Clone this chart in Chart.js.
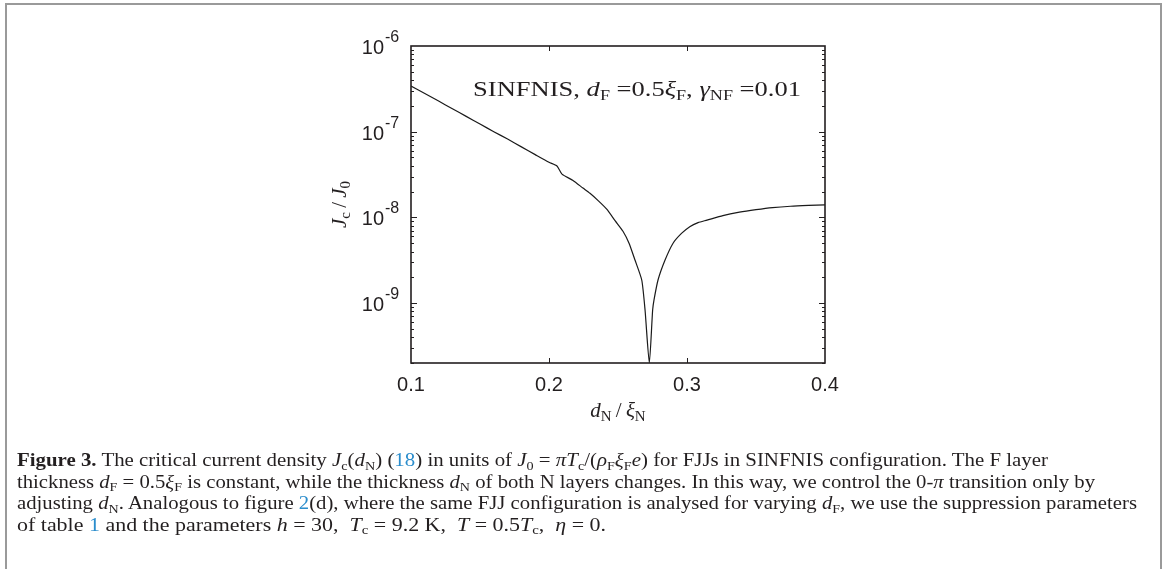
<!DOCTYPE html>
<html>
<head>
<meta charset="utf-8">
<script src="https://cdn.jsdelivr.net/npm/chart.js@4.4.0/dist/chart.umd.min.js"></script>
<style>
  body { margin: 0; background: #fff; width: 1168px; height: 569px; overflow: hidden; position: relative; }
  #frame { position: absolute; left: 5px; top: 3px; width: 1153px; height: 620px; border: 2px solid #9a9a9a; border-bottom: none; }
  canvas { position: absolute; left: 0; top: 0; }
  #caption { position: absolute; left: 17px; top: 450px; font-family: "Liberation Serif", serif; font-size: 18px; color: #231f20; }
  .ln { white-space: nowrap; height: 21.5px; line-height: 21.5px; transform-origin: 0 0; }
  .ln span.w { display: inline-block; transform-origin: 0 50%; }
  .s { font-size: 0.68em; position: relative; top: 0.3em; font-style: normal; }
  .b { color: #2b8dcc; }
</style>
</head>
<body>
<div id="frame"></div>
<canvas id="myChart" width="1168" height="569"></canvas>
<div id="caption">
  <div class="ln"><span class="w"><b>Figure 3.</b> The critical current density <i>J</i><span class="s">c</span>(<i>d</i><span class="s">N</span>) (<span class="b">18</span>) in units of <i>J</i><span class="s">0</span> = <i>πT</i><span class="s">c</span>/(<i>ρ</i><span class="s">F</span><i>ξ</i><span class="s">F</span><i>e</i>) for FJJs in SINFNIS configuration. The F layer</span></div>
  <div class="ln"><span class="w">thickness <i>d</i><span class="s">F</span> = 0.5<i>ξ</i><span class="s">F</span> is constant, while the thickness <i>d</i><span class="s">N</span> of both N layers changes. In this way, we control the 0-<i>π</i> transition only by</span></div>
  <div class="ln"><span class="w">adjusting <i>d</i><span class="s">N</span>. Analogous to figure <span class="b">2</span>(d), where the same FJJ configuration is analysed for varying <i>d</i><span class="s">F</span>, we use the suppression parameters</span></div>
  <div class="ln"><span class="w">of table <span class="b">1</span> and the parameters <i>h</i> = 30, &nbsp;<i>T</i><span class="s">c</span> = 9.2 K, &nbsp;<i>T</i> = 0.5<i>T</i><span class="s">c</span>, &nbsp;<i>η</i> = 0.</span></div>
</div>
<script>
// d_N / xi_N
const dN = [0.100, 0.110, 0.120, 0.130, 0.140, 0.150, 0.160, 0.170, 0.180, 0.190,
            0.200, 0.2058, 0.2094, 0.2174, 0.2246, 0.2297, 0.236, 0.242, 0.248, 0.2536,
            0.258, 0.2623, 0.2672, 0.2696, 0.2727, 0.2751, 0.2761, 0.2790, 0.2841, 0.2899,
            0.296, 0.302, 0.308, 0.3145, 0.326, 0.338, 0.350, 0.362, 0.375, 0.388, 0.400];
// J_c / J_0
const Jc = [3.4e-7, 2.79e-7, 2.28e-7, 1.85e-7, 1.51e-7, 1.23e-7, 1.0e-7, 8.2e-8, 6.65e-8, 5.4e-8,
            4.4e-8, 3.98e-8, 3.2e-8, 2.7e-8, 2.2e-8, 1.91e-8, 1.55e-8, 1.24e-8, 9.1e-9, 6.9e-9,
            5.0e-9, 3.18e-9, 1.86e-9, 8.3e-10, 2.0e-10, 8.3e-10, 1.09e-9, 1.86e-9, 3.18e-9, 5.0e-9,
            6.5e-9, 7.8e-9, 8.7e-9, 9.3e-9, 1.05e-8, 1.15e-8, 1.23e-8, 1.3e-8, 1.35e-8, 1.38e-8, 1.4e-8];

const xTicks = [0.1, 0.2, 0.3, 0.4];
const xTickLabels = ['0.1', '0.2', '0.3', '0.4'];
const yTicks = [1e-9, 1e-8, 1e-7, 1e-6];
const yTickExp = ['-9', '-8', '-7', '-6'];

const ink = '#231f20';
const serif = '"Liberation Serif", serif';
const sans = '"Liberation Sans", Arial, sans-serif';

// draw a row of text pieces (different fonts / raised or lowered)
// if fitW is given the row is stretched horizontally to that width
function drawRuns(ctx, runs, x, y, align, fitW) {
  let w = 0;
  runs.forEach(r => { ctx.font = r.f; w += ctx.measureText(r.t).width; });
  const sx = fitW ? fitW / w : 1;
  ctx.save();
  ctx.translate(align === 'center' ? x - w * sx / 2 : x, y);
  ctx.scale(sx, 1);
  let cx = 0;
  runs.forEach(r => {
    ctx.font = r.f;
    ctx.textAlign = 'left';
    ctx.fillText(r.t, cx, r.dy || 0);
    cx += ctx.measureText(r.t).width;
  });
  ctx.restore();
}

const axesDecor = {
  id: 'axesDecor',
  afterDatasetsDraw(chart) {
    const { ctx, chartArea: a, scales: { x, y } } = chart;
    ctx.save();
    ctx.strokeStyle = ink;
    ctx.fillStyle = ink;

    // ticks, pointing inwards on all four sides
    ctx.lineWidth = 1;
    ctx.beginPath();
    xTicks.forEach(v => {
      const px = Math.round(x.getPixelForValue(v)) + 0.5;
      if (px < a.left + 2 || px > a.right - 2) return;
      ctx.moveTo(px, a.bottom); ctx.lineTo(px, a.bottom - 5);
      ctx.moveTo(px, a.top); ctx.lineTo(px, a.top + 5);
    });
    const lo = Math.floor(Math.log10(y.min)), hi = Math.ceil(Math.log10(y.max));
    for (let e = lo; e < hi; e++) {
      for (let k = 1; k <= 9; k++) {
        const v = k * Math.pow(10, e);
        if (v < y.min || v > y.max) continue;
        const py = Math.round(y.getPixelForValue(v)) + 0.5;
        const len = k === 1 ? 6 : 3;
        ctx.moveTo(a.left, py); ctx.lineTo(a.left + len, py);
        ctx.moveTo(a.right, py); ctx.lineTo(a.right - len, py);
      }
    }
    ctx.stroke();

    // axes box
    ctx.lineWidth = 1.6;
    ctx.strokeRect(a.left, a.top, a.right - a.left, a.bottom - a.top);

    // x tick labels
    ctx.font = '20px ' + sans;
    ctx.textAlign = 'center';
    ctx.textBaseline = 'alphabetic';
    xTicks.forEach((v, i) => ctx.fillText(xTickLabels[i], x.getPixelForValue(v), a.bottom + 28));

    // y tick labels 10^n
    yTicks.forEach((v, i) => {
      const py = y.getPixelForValue(v);
      ctx.font = '20px ' + sans;
      ctx.textAlign = 'right';
      ctx.fillText('10', a.left - 27, py + 8);
      ctx.font = '16px ' + sans;
      ctx.textAlign = 'left';
      ctx.fillText(yTickExp[i], a.left - 26, py - 4);
    });

    // axis titles
    const it = 'italic 21px ' + serif, sb = '15px ' + serif;
    drawRuns(ctx, [
      { t: 'd', f: it }, { t: 'N', f: sb, dy: 4 }, { t: '\u2009/\u2009', f: '21px ' + serif },
      { t: 'ξ', f: it }, { t: 'N', f: sb, dy: 4 }
    ], (a.left + a.right) / 2, a.bottom + 54, 'center');

    ctx.save();
    ctx.translate(a.left - 72, (a.top + a.bottom) / 2);
    ctx.rotate(-Math.PI / 2);
    drawRuns(ctx, [
      { t: 'J', f: it }, { t: 'c', f: sb, dy: 4 }, { t: '\u2009/\u2009', f: '21px ' + serif },
      { t: 'J', f: it }, { t: '0', f: sb, dy: 4 }
    ], 0, 7, 'center');
    ctx.restore();

    // label inside the plot
    const f = '22px ' + serif, fi = 'italic 22px ' + serif, fs = '15px ' + serif;
    const left = x.getPixelForValue(0.145);
    drawRuns(ctx, [
      { t: 'SINFNIS, ', f: f }, { t: 'd', f: fi }, { t: 'F', f: fs, dy: 4 },
      { t: ' =0.5', f: f }, { t: 'ξ', f: fi }, { t: 'F', f: fs, dy: 4 },
      { t: ', ', f: f }, { t: 'γ', f: fi }, { t: 'NF', f: fs, dy: 4 },
      { t: ' =0.01', f: f }
    ], left, y.getPixelForValue(2.6e-7), 'left', x.getPixelForValue(0.3826) - left);

    ctx.restore();
  }
};

const ctx = document.getElementById('myChart').getContext('2d');
const myChart = new Chart(ctx, {
  type: 'line',
  data: {
    datasets: [{
      data: dN.map((v, i) => ({ x: v, y: Jc[i] })),
      borderColor: '#1a1a1a',
      borderWidth: 1.2,
      pointRadius: 0,
      tension: 0.2,
      fill: false
    }]
  },
  options: {
    responsive: false,
    animation: false,
    layout: { padding: { left: 411, right: 343, top: 46, bottom: 206 } },
    plugins: { legend: { display: false }, tooltip: { enabled: false } },
    scales: {
      x: { type: 'linear', min: 0.1, max: 0.4, display: false },
      y: { type: 'logarithmic', min: 2e-10, max: 1e-6, display: false }
    }
  },
  plugins: [axesDecor]
});

// squeeze/stretch each caption line to the width it has in the figure
const lineEnds = [1048, 1095, 1137, 606];
document.querySelectorAll('#caption .w').forEach((el, i) => {
  const w = el.getBoundingClientRect().width;
  el.style.transform = 'scaleX(' + ((lineEnds[i] - 17) / w) + ')';
});
</script>
</body>
</html>
